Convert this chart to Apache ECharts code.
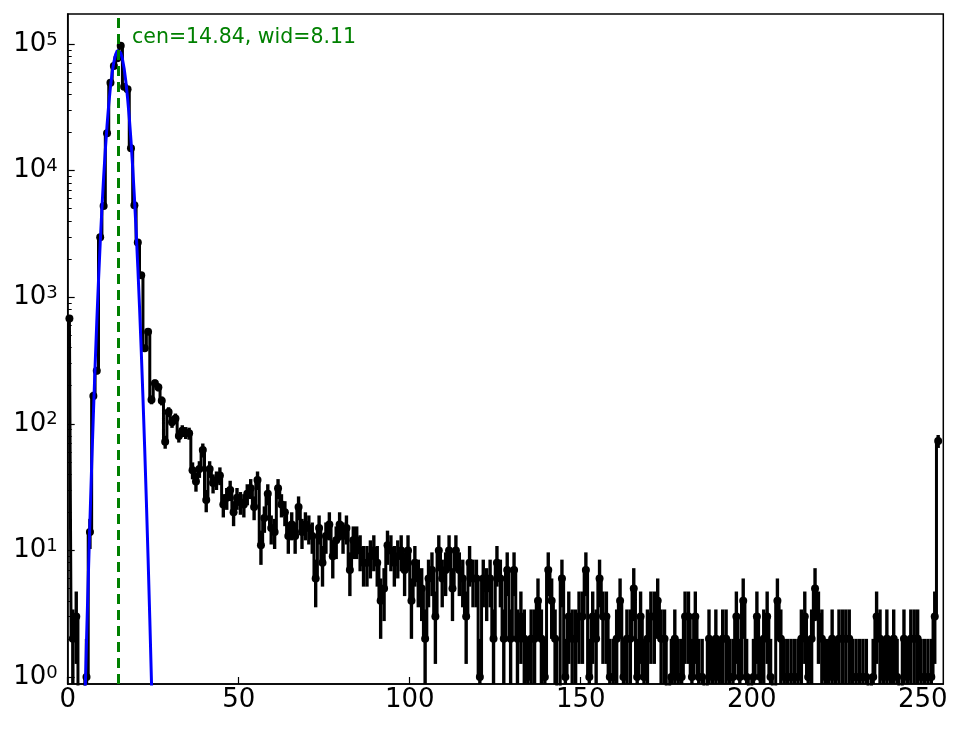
<!DOCTYPE html>
<html>
<head>
<meta charset="utf-8">
<script src="https://cdn.jsdelivr.net/npm/echarts@6/dist/echarts.min.js"></script>
<style>
html,body{margin:0;padding:0;background:#fff;}
#chart{width:964px;height:729px;}
</style>
</head>
<body>
<div id="chart"></div>
<script>
// ---- data (histogram counts per bin, bin centres at i+0.5) ----
const countsPeak = [680, 2, 3, 0, 0, 1, 14, 166, 262, 2970,
  5250, 19700, 49400, 67000, 77100, 97000, 46000, 43900, 15000, 5320,
  2700, 1490, 395, 534, 155, 209, 194, 152, 72, 124];
const countsMid = [103, 110, 80, 88, 85, 84, 43, 35, 44, 62,
  25, 44, 34, 36, 39, 23, 26, 30, 20, 26,
  24, 23, 28, 31, 22, 36, 11, 18, 28, 15,
  14, 31, 23, 20, 13, 16, 13, 22, 14, 16,
  15, 13, 6, 15, 8, 13, 16, 9, 12, 16,
  13, 15, 7, 12, 12, 10, 8, 8, 9, 10,
  8, 4, 5, 11, 10, 8, 9, 10, 7, 10];
const countsTail = [4, 8, 6, 5, 2, 6, 7, 3, 10, 6,
  7, 10, 5, 10, 7, 6, 3, 8, 6, 6,
  1, 6, 5, 6, 2, 8, 6, 2, 7, 2,
  7, 2, 3, 2, 1, 2, 2, 4, 2, 1,
  7, 4, 2, 0, 6, 1, 3, 2, 2, 3,
  3, 7, 1, 3, 2, 6, 3, 3, 1, 1,
  2, 4, 1, 2, 2, 5, 1, 3, 1, 2,
  3, 3, 4, 2, 2, 0, 1, 2, 1, 1];
const countsEnd = [3, 3, 1, 3, 1, 1, 0, 2, 1, 2,
  1, 2, 2, 1, 1, 3, 1, 4, 1, 0,
  1, 3, 1, 2, 3, 1, 0, 4, 2, 1,
  1, 1, 1, 1, 2, 3, 1, 2, 5, 3,
  2, 1, 1, 2, 1, 2, 2, 2, 2, 1,
  1, 1, 1, 1, 0, 1, 3, 2, 1, 2,
  1, 2, 1, 0, 2, 1, 2, 2, 2, 1,
  1, 1, 1, 3, 73];

// fitted curve as drawn (x, value)
const fitX = [4.5, 5, 5.5, 6, 6.5, 7, 7.5, 8, 8.5, 9, 9.5, 10, 10.5, 11, 11.5, 12, 12.5, 13, 13.5, 14, 14.5,
  15, 15.5, 16, 16.5, 17, 17.5, 18, 18.5, 19, 19.5, 20, 20.5, 21, 21.5, 22, 22.5, 23, 23.5, 24, 24.5, 25, 25.5];
const fitY = [0.17, 0.59, 1.92, 5.9, 17, 46, 117, 281, 633, 1342, 2670, 5000, 8820, 14600, 22700, 33300, 45800, 59300, 72100, 82500, 88700,
  89700, 85300, 76200, 64100, 50600, 37600, 26300, 17300, 10600, 6180, 3370, 1730, 836, 379, 162, 65, 24.5, 8.7, 2.9, 0.9, 0.27, 0.074];

const fitCen = 14.84;
const fitLabel = 'cen=14.84, wid=8.11';

const xTickValues = [0, 50, 100, 150, 200, 250];
const yMinorValues = [2,3,4,5,6,7,8,9, 20,30,40,50,60,70,80,90, 200,300,400,500,600,700,800,900,
  2000,3000,4000,5000,6000,7000,8000,9000, 20000,30000,40000,50000,60000,70000,80000,90000];

// ---- axis ranges ----
const X_MIN = 0, X_MAX = 256;
const Y_MIN = 0.88, Y_MAX = 172600;
const FLOOR = 1e-3; // zero counts are clipped below the log axis

const counts = countsPeak.concat(countsMid, countsTail, countsEnd);
const stepData = counts.map((c, i) => [i + 0.5, c > 0 ? c : FLOOR]);
const errData = [];
counts.forEach((c, i) => {
  if (c > 0) {
    const e = Math.sqrt(c);
    errData.push([i + 0.5, c, Math.max(c - e, Y_MIN), Math.min(c + e, Y_MAX)]);
  }
});
const fitData = fitX.map((x, i) => [x, fitY[i]]);

const FONT = 'DejaVu Sans';
const chart = echarts.init(document.getElementById('chart'), null, {renderer: 'canvas'});

chart.setOption({
  animation: false,
  backgroundColor: '#fff',
  grid: {
    left: 67.7, right: 20.7, top: 14, bottom: 45,
    show: true, borderColor: '#000', borderWidth: 1.5,
    backgroundColor: 'transparent', containLabel: false, outerBoundsMode: 'none'
  },
  xAxis: {
    type: 'value', min: X_MIN, max: X_MAX, interval: 50,
    axisLine: {show: true, lineStyle: {color: '#000', width: 1.5}},
    axisTick: {show: true, inside: true, length: 7, lineStyle: {color: '#000', width: 1.2}, customValues: xTickValues},
    axisLabel: {show: true, fontSize: 26, fontFamily: FONT, color: '#000', margin: 3, customValues: xTickValues},
    splitLine: {show: false}
  },
  yAxis: [{
    type: 'log', logBase: 10, min: Y_MIN, max: Y_MAX,
    axisLine: {show: true, lineStyle: {color: '#000', width: 1.5}},
    axisTick: {show: true, inside: true, length: 7, lineStyle: {color: '#000', width: 1.2}},
    axisLabel: {
      show: true, margin: 10, showMinLabel: false, showMaxLabel: false,
      formatter: function (v) {
        return '{b|10}{s|' + Math.round(Math.log10(v)) + '}';
      },
      rich: {
        b: {fontSize: 26, fontFamily: FONT, color: '#000'},
        s: {fontSize: 18, fontFamily: FONT, color: '#000', verticalAlign: 'top'}
      }
    },
    splitLine: {show: false}
  }, {
    type: 'log', logBase: 10, min: Y_MIN, max: Y_MAX, position: 'left', offset: 0,
    axisLine: {show: false},
    axisTick: {show: true, inside: true, length: 4, lineStyle: {color: '#000', width: 1}, customValues: yMinorValues},
    axisLabel: {show: false},
    splitLine: {show: false}
  }],
  graphic: [{
    type: 'text', left: 132, top: 27, z: 100,
    style: {text: fitLabel, fill: '#008000', font: '20.5px "DejaVu Sans"'}
  }],
  series: [{
    name: 'errors',
    type: 'custom',
    clip: true,
    z: 2,
    data: errData,
    encode: {x: 0, y: [1, 2, 3]},
    renderItem: function (params, api) {
      const x = api.value(0);
      const lo = api.coord([x, api.value(2)]);
      const hi = api.coord([x, api.value(3)]);
      return {
        type: 'line',
        shape: {x1: lo[0], y1: lo[1], x2: hi[0], y2: hi[1]},
        style: {stroke: '#000', lineWidth: 3.4}
      };
    }
  }, {
    name: 'counts',
    type: 'line',
    step: 'middle',
    z: 3,
    clip: true,
    data: stepData,
    showSymbol: true,
    showAllSymbol: true,
    symbol: 'circle',
    symbolSize: 8,
    itemStyle: {color: '#000'},
    lineStyle: {color: '#000', width: 3},
    emphasis: {disabled: true}
  }, {
    name: 'fit',
    type: 'line',
    z: 4,
    clip: true,
    data: fitData,
    showSymbol: false,
    lineStyle: {color: '#0000ff', width: 3},
    emphasis: {disabled: true},
    markLine: {
      silent: true,
      symbol: ['none', 'none'],
      label: {show: false},
      lineStyle: {color: '#008000', type: [10, 6], width: 3},
      data: [{xAxis: fitCen}]
    }
  }]
});
</script>
</body>
</html>
